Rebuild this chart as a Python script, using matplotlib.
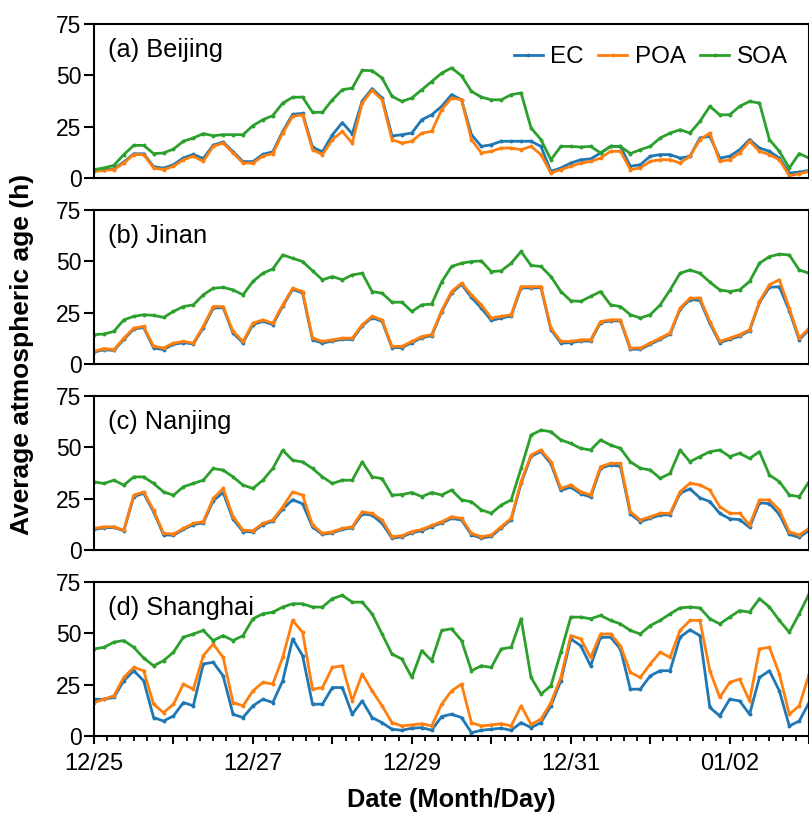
import matplotlib
matplotlib.use('Agg')
from matplotlib import pyplot as plt
import matplotlib.dates as mdates
import pandas as pd

plt.rcParams['font.family'] = ['Liberation Sans', 'DejaVu Sans']

# 3-hourly samples from 12/25 00:00 to 01/03 00:00
times = pd.date_range('2016-12-25 00:00', '2017-01-03 00:00', freq='3h')

series_names = ['EC', 'POA', 'SOA']
series_colors = ['#1f77b4', '#ff7f0e', '#2ca02c']
panel_titles = ['(a) Beijing', '(b) Jinan', '(c) Nanjing', '(d) Shanghai']
tick_labels = ['12/25', '12/27', '12/29', '12/31', '01/02']
yticks = [0, 25, 50, 75]

beijing_ec = [3.5, 4.0, 4.5, 7.8, 11.8, 11.8, 5.5, 4.8, 6.5, 9.8,
              11.5, 9.5, 16.0, 17.5, 12.8, 8.0, 8.0, 11.5, 12.8, 22.7,
              31.0, 31.5, 15.0, 12.8, 21.0, 27.0, 21.5, 37.5, 43.5, 39.0,
              20.5, 21.1, 21.9, 28.4, 30.8, 34.9, 40.6, 38.1, 21.1, 15.4,
              16.2, 17.9, 17.9, 17.9, 17.9, 15.4, 3.2, 4.9, 7.3, 8.9,
              9.3, 12.2, 15.4, 15.4, 5.7, 6.5, 10.6, 11.4, 11.4, 9.7,
              10.6, 19.5, 20.3, 9.7, 10.6, 13.8, 18.7, 14.6, 13.0, 9.7,
              2.4, 2.9, 3.7]
beijing_poa = [3.2, 3.7, 4.1, 7.3, 11.4, 11.4, 4.9, 4.1, 5.7, 8.9,
               10.6, 8.1, 15.4, 17.0, 12.2, 7.3, 7.3, 10.6, 11.9, 21.9,
               30.0, 30.8, 13.8, 11.4, 18.7, 22.7, 17.0, 36.5, 42.7, 38.1,
               18.7, 17.0, 17.9, 21.9, 22.7, 33.3, 39.0, 38.1, 18.7, 12.2,
               13.0, 14.6, 14.6, 13.8, 15.4, 11.4, 2.4, 4.1, 5.7, 7.3,
               8.1, 9.7, 13.0, 13.0, 4.1, 4.9, 8.1, 8.9, 8.9, 7.3,
               10.6, 18.7, 21.9, 8.1, 8.9, 12.2, 17.9, 13.0, 11.4, 8.9,
               1.1, 2.1, 3.2]
beijing_soa = [4.1, 4.9, 6.2, 11.4, 15.9, 15.9, 11.9, 12.2, 14.1, 17.9,
               19.5, 21.6, 20.6, 21.1, 21.1, 21.1, 25.5, 28.4, 30.4, 36.5,
               39.3, 39.4, 32.0, 32.0, 38.1, 43.0, 43.8, 52.4, 52.3, 48.7,
               39.8, 37.3, 39.0, 43.0, 47.0, 51.1, 53.6, 49.8, 42.2, 39.4,
               38.1, 38.1, 40.6, 41.4, 24.4, 18.7, 8.9, 15.4, 15.4, 15.1,
               15.4, 12.2, 15.4, 15.4, 11.9, 13.8, 15.4, 19.5, 21.9, 23.5,
               21.9, 27.6, 34.9, 30.8, 30.8, 34.9, 37.3, 36.5, 18.7, 13.0,
               4.9, 11.9, 9.7]

jinan_ec = [5.8, 7.0, 6.6, 12.0, 17.0, 17.8, 7.8, 7.0, 9.6, 10.4,
            9.8, 17.6, 27.2, 27.5, 15.0, 10.4, 19.2, 20.8, 19.2, 28.2,
            36.4, 34.6, 11.8, 10.2, 11.2, 12.0, 12.0, 18.6, 22.6, 20.8,
            8.0, 8.0, 10.4, 12.8, 13.8, 25.4, 34.6, 38.8, 32.4, 27.2,
            21.2, 22.4, 23.4, 37.2, 37.0, 37.2, 16.8, 10.2, 10.4, 11.2,
            11.2, 20.2, 21.0, 21.0, 7.2, 7.2, 9.6, 12.0, 14.6, 26.6,
            31.4, 31.0, 19.8, 10.4, 12.0, 13.6, 16.2, 30.0, 37.4, 37.6,
            26.0, 11.8, 16.8]
jinan_poa = [6.2, 7.5, 7.0, 12.6, 17.5, 18.3, 8.6, 7.8, 10.2, 11.0,
             10.2, 18.3, 28.0, 28.0, 15.9, 11.0, 19.9, 21.5, 19.9, 28.8,
             36.9, 35.3, 12.6, 11.0, 11.8, 12.6, 12.6, 19.1, 23.2, 21.5,
             8.6, 8.6, 11.0, 13.4, 14.3, 26.0, 35.3, 39.4, 33.7, 28.8,
             22.4, 23.2, 24.0, 37.7, 37.7, 37.7, 17.5, 11.0, 11.0, 11.8,
             11.8, 20.7, 21.5, 21.5, 7.8, 7.8, 10.2, 12.6, 15.1, 27.2,
             32.1, 32.1, 20.7, 11.0, 12.6, 14.3, 16.7, 30.5, 38.6, 41.0,
             27.2, 12.6, 17.5]
jinan_soa = [14.3, 14.6, 15.9, 21.5, 23.2, 24.0, 23.7, 22.7, 25.6, 28.0,
             28.8, 33.7, 36.9, 37.3, 36.1, 33.7, 40.2, 44.2, 46.3, 53.1,
             51.5, 49.9, 45.4, 41.0, 42.6, 41.0, 43.4, 44.2, 35.3, 34.5,
             30.1, 30.1, 25.6, 28.8, 29.2, 40.0, 47.5, 49.1, 49.9, 50.2,
             45.0, 45.4, 49.1, 54.8, 48.0, 47.5, 42.6, 35.3, 30.8, 30.5,
             32.9, 35.3, 28.8, 28.0, 24.0, 22.4, 24.0, 28.8, 36.1, 44.2,
             45.8, 44.2, 39.9, 36.1, 35.3, 36.1, 40.2, 49.1, 52.3, 53.5,
             53.1, 45.8, 44.2]

nanjing_ec = [10.0, 10.8, 11.0, 9.4, 26.0, 27.6, 18.6, 7.4, 7.2, 10.0,
              12.4, 13.2, 24.0, 28.0, 15.0, 9.0, 8.8, 12.4, 14.0, 20.0,
              24.5, 22.5, 11.2, 7.6, 8.4, 10.0, 10.8, 17.6, 17.0, 13.0,
              5.8, 6.4, 8.4, 9.4, 11.4, 13.2, 15.4, 14.6, 7.4, 5.8,
              6.6, 10.8, 14.8, 32.6, 45.6, 48.0, 42.0, 29.0, 30.6, 27.4,
              25.8, 39.8, 41.4, 40.8, 17.6, 13.8, 15.4, 17.0, 17.2, 27.6,
              29.8, 25.4, 23.6, 17.8, 15.2, 14.8, 11.0, 23.0, 22.6, 17.4,
              7.6, 6.2, 9.6]
nanjing_poa = [10.5, 11.3, 11.3, 9.7, 26.7, 28.3, 19.4, 8.1, 7.8, 10.5,
               13.0, 13.8, 25.1, 30.0, 16.2, 9.7, 9.4, 13.0, 14.6, 21.0,
               28.3, 26.7, 12.2, 8.1, 8.9, 10.5, 11.3, 18.6, 17.8, 14.6,
               6.5, 7.0, 9.0, 10.0, 12.0, 13.8, 16.2, 15.4, 8.1, 6.5,
               7.3, 11.4, 15.4, 33.3, 46.3, 48.7, 43.0, 30.0, 31.7, 28.4,
               26.8, 40.6, 42.2, 42.2, 18.7, 14.6, 16.2, 17.9, 17.9, 28.4,
               32.5, 31.7, 29.2, 21.1, 17.9, 17.9, 12.2, 24.4, 24.4, 19.5,
               8.9, 7.3, 10.6]
nanjing_soa = [33.2, 32.4, 34.0, 31.6, 35.6, 35.6, 32.4, 28.3, 26.7, 30.8,
               32.4, 34.0, 39.7, 38.9, 35.6, 31.6, 30.0, 34.0, 39.7, 48.6,
               43.7, 42.9, 39.7, 35.6, 32.4, 34.0, 34.0, 42.9, 35.6, 34.8,
               26.7, 27.0, 28.0, 26.0, 28.0, 26.8, 29.2, 24.4, 23.5, 19.5,
               17.9, 21.9, 24.4, 39.8, 56.0, 58.4, 57.6, 53.6, 51.9, 49.5,
               48.7, 53.6, 51.1, 49.5, 43.0, 39.8, 39.0, 34.9, 37.3, 48.7,
               43.0, 45.5, 47.9, 48.7, 45.5, 47.1, 44.6, 47.9, 36.5, 33.3,
               26.8, 26.0, 33.3]

shanghai_ec = [17.9, 17.9, 18.8, 26.9, 31.8, 26.9, 9.0, 7.3, 9.8, 16.3,
               14.7, 35.1, 35.9, 29.3, 10.6, 9.0, 14.7, 17.9, 16.3, 26.9,
               47.3, 39.1, 15.5, 15.5, 23.6, 23.6, 10.6, 17.1, 9.0, 6.5,
               3.3, 2.8, 3.8, 4.1, 2.8, 9.5, 10.6, 9.0, 1.6, 2.8,
               3.3, 3.8, 2.8, 6.5, 4.1, 6.5, 14.7, 26.9, 47.3, 44.0,
               34.2, 48.1, 48.1, 42.4, 22.8, 22.8, 29.3, 31.8, 31.8, 48.1,
               51.7, 48.9, 13.9, 9.8, 17.9, 17.1, 10.6, 28.5, 31.8, 22.0,
               4.9, 7.3, 16.3]
shanghai_poa = [16.3, 17.9, 19.6, 28.5, 33.4, 31.8, 15.5, 11.4, 15.5, 25.3,
                22.8, 39.1, 44.8, 38.3, 16.3, 14.7, 22.0, 26.1, 25.3, 38.3,
                56.3, 50.5, 22.8, 23.6, 33.4, 34.2, 17.1, 30.2, 22.0, 14.7,
                6.5, 4.9, 5.4, 6.0, 4.9, 15.5, 22.0, 25.3, 6.5, 4.9,
                5.4, 6.0, 4.9, 14.7, 5.7, 8.2, 16.3, 28.5, 48.9, 47.3,
                38.3, 49.7, 49.7, 44.0, 31.0, 28.5, 35.1, 40.8, 38.3, 51.4,
                56.3, 56.3, 31.8, 18.8, 26.1, 27.7, 17.1, 42.4, 43.2, 30.2,
                10.6, 14.7, 30.2]
shanghai_soa = [42.4, 43.2, 45.7, 46.5, 43.2, 38.0, 34.2, 36.7, 40.8, 48.1,
                49.7, 51.4, 46.5, 48.9, 46.5, 48.9, 57.1, 59.5, 60.3, 62.8,
                64.4, 64.4, 62.8, 62.8, 66.9, 68.5, 65.2, 65.2, 59.5, 49.7,
                39.9, 37.5, 28.5, 41.6, 36.7, 51.4, 52.2, 46.5, 31.8, 34.2,
                33.4, 42.4, 43.2, 57.1, 28.5, 20.4, 24.5, 40.8, 57.9, 57.9,
                57.1, 58.7, 56.3, 54.6, 51.4, 49.7, 53.8, 56.3, 59.5, 62.4,
                62.8, 62.4, 57.1, 54.6, 57.9, 61.1, 60.3, 66.9, 62.8, 56.3,
                50.5, 59.5, 69.3]

sites = [
    [beijing_ec, beijing_poa, beijing_soa],
    [jinan_ec, jinan_poa, jinan_soa],
    [nanjing_ec, nanjing_poa, nanjing_soa],
    [shanghai_ec, shanghai_poa, shanghai_soa],
]

fig = plt.figure(figsize=(8.09, 8.14), dpi=100)
left, width, height = 0.1162, 0.884, 0.1892
bottoms = [0.7813, 0.5528, 0.3243, 0.0958]

axes = []
for i, site in enumerate(sites):
    ax = fig.add_axes([left, bottoms[i], width, height],
                      sharex=axes[0] if axes else None)
    axes.append(ax)
    for vals, name, col in zip(site, series_names, series_colors):
        ax.plot(times, vals, '-o', color=col, lw=2.0, ms=1.8, label=name)
    ax.set_ylim(0, 75)
    ax.set_yticks(yticks)
    ax.text(0.02, 0.91, panel_titles[i], transform=ax.transAxes,
            fontsize=18.3, va='top', ha='left')
    for s in ax.spines.values():
        s.set_linewidth(1.5)
    ax.tick_params(axis='y', direction='out', length=7, width=1.5,
                   labelsize=16.5, pad=2)
    if i < 3:
        ax.tick_params(axis='x', bottom=False, labelbottom=False,
                       which='both')

ax = axes[-1]
ax.set_xlim(times[0], times[-1])
day_ticks = pd.date_range(times[0], times[-1], freq='1D')
ax.set_xticks(day_ticks)
ax.set_xticklabels([d.strftime('%m/%d') if d.strftime('%m/%d') in tick_labels
                    else '' for d in day_ticks])
ax.xaxis.set_minor_locator(mdates.HourLocator(byhour=range(0, 24, 4)))
ax.tick_params(axis='x', which='major', direction='out', length=6,
               width=1.5, labelsize=17, pad=6)
ax.tick_params(axis='x', which='minor', direction='out', length=3.5,
               width=1.3)

axes[0].legend(loc='center right', bbox_to_anchor=(0.97, 0.785), ncol=3,
               frameon=False, fontsize=17.5, handlelength=1.2,
               handletextpad=0.3, columnspacing=0.6, borderpad=0,
               borderaxespad=0)

fig.text(0.027, 0.564, 'Average atmospheric age (h)', rotation=90,
         fontsize=19, fontweight='bold', ha='center', va='center')
fig.text(0.558, 0.017, 'Date (Month/Day)', fontsize=18.3, fontweight='bold',
         ha='center', va='center')

fig.savefig('out.png', dpi=100)
